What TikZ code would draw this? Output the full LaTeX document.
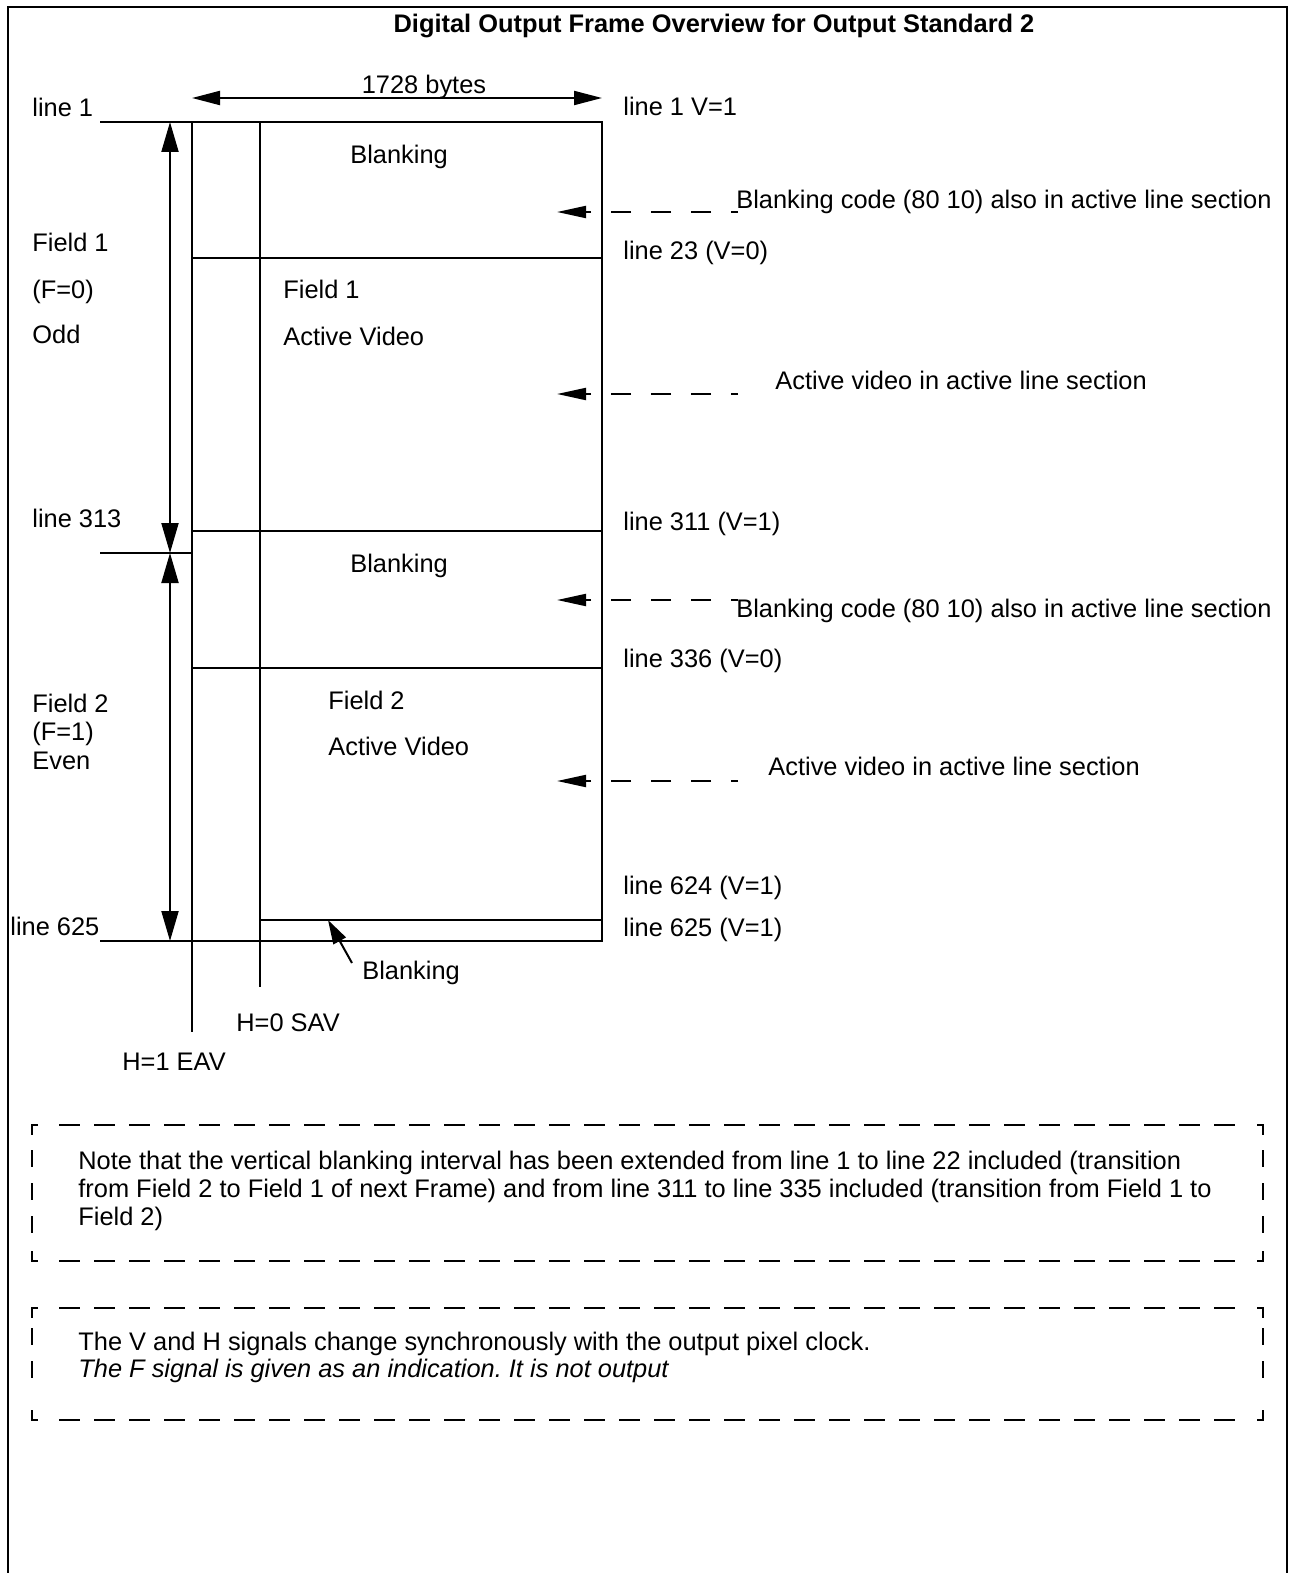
\documentclass[tikz,border=0pt]{standalone}
\usepackage{fontspec}
\setmainfont{Liberation Sans}
\usepackage{tikz}
\usetikzlibrary{arrows.meta,positioning}
\tikzset{lbl/.style={anchor=west,inner sep=0pt,text height=9pt,text depth=0pt}}
\tikzset{ln/.style={line width=1pt}}
\tikzset{vt/.style={ln,{Triangle[length=15pt,width=8.5pt]}-{Triangle[length=15pt,width=8.5pt]}}}
\tikzset{dsh/.style={ln,-{Triangle[length=14.5pt,width=6pt]},dash pattern=on 10pt off 10pt,dash phase=6.5pt}}
\tikzset{crn/.style={line width=1pt}}
\tikzset{hd/.style={line width=1.1pt,dash pattern=on 10.5pt off 7pt}}
\tikzset{vd/.style={line width=1pt,dash pattern=on 8.5pt off 8pt}}

\begin{document}
\frenchspacing
\begin{tikzpicture}[x=0.5pt,y=-0.5pt,font=\fontsize{12.7}{14.5}\selectfont]
    \useasboundingbox (0,0) rectangle (1295,1573);
    \draw[ln] (8,1573) -- (8,7) -- (1287,7) -- (1287,1573);
    \node[inner sep=0pt,text height=9pt,text depth=0pt] (ttl)at (714,24) {\bfseries Digital Output Frame Overview for Output Standard 2};
    % frame corners
    \coordinate (l1)at (100,122);
    \coordinate (tr)at (602,122);
    \coordinate (br)at (602,941);
    \coordinate (l625)at (100,941);
    \coordinate (eavt)at (192,122);
    \coordinate (eavb)at (192,1032);
    \coordinate (savt)at (260,122);
    \coordinate (savb)at (260,987);
    \draw[ln] (l1) -- (tr) -- (br) -- (l625);
    \draw[ln] (eavt) -- (eavb);
    \draw[ln] (savt) -- (savb);
    \draw[ln] (192,258) -- (602,258);
    \draw[ln] (192,531) -- (602,531);
    \draw[ln] (192,668) -- (602,668);
    \draw[ln] (260,920) -- (602,920);
    \draw[ln] (100,553) -- (192,553);
    \draw[vt] (170,122) -- (170,553);
    \draw[vt] (170,553) -- (170,941);
    \draw[ln,{Triangle[length=14pt,width=7pt]}-{Triangle[length=14pt,width=7pt]}] (192,98) -- (602,98);
    \node[inner sep=0pt,text height=9pt,text depth=0pt] (byt)at (424,85) {1728 bytes};
    % left labels
    \node[lbl] (t1)at (32,108) {line 1};
    \node[lbl] (f1a)at (32,242) {Field 1};
    \node[lbl] (f1b)at (32,290) {(F=0)};
    \node[lbl] (f1c)at (32,334) {Odd};
    \node[lbl] (t313)at (32,518) {line 313};
    \node[lbl] (f2a)at (32,703) {Field 2};
    \node[lbl,below=5pt of f2a.south west,anchor=north west] (f2b) {(F=1)};
    \node[lbl,below=5pt of f2b.south west,anchor=north west] (f2c) {Even};
    \node[lbl] (t625)at (10,926) {line 625};
    % inside the frame
    \node[lbl] (bk1)at (350,155) {Blanking};
    \node[lbl] (av1a)at (283,290) {Field 1};
    \node[lbl] (av1b)at (283,336) {Active Video};
    \node[lbl] (bk2)at (350,563) {Blanking};
    \node[lbl] (av2a)at (328,700) {Field 2};
    \node[lbl] (av2b)at (328,746) {Active Video};
    \node[lbl] (bk3)at (362,970) {Blanking};
    \coordinate (bkt)at (352,963);
    \coordinate (bkh)at (328,920);
    \draw[ln,-{Triangle[length=12pt,width=7pt]}] (bkt) -- (bkh);
    \node[lbl] (sav)at (236,1022) {H=0 SAV};
    \node[lbl] (eav)at (122,1061) {H=1 EAV};
    % right labels
    \node[lbl] (r1)at (623,107) {line 1 V=1};
    \node[lbl] (r23)at (623,250) {line 23 (V=0)};
    \node[lbl] (r311)at (623,521) {line 311 (V=1)};
    \node[lbl] (r336)at (623,658) {line 336 (V=0)};
    \node[lbl] (r624)at (623,885) {line 624 (V=1)};
    \node[lbl] (r625)at (623,927) {line 625 (V=1)};
    \node[lbl] (c1)at (736,200) {Blanking code (80 10) also in active line section};
    \node[lbl] (c2)at (775,380) {Active video in active line section};
    \node[lbl] (c3)at (736,608) {Blanking code (80 10) also in active line section};
    \node[lbl] (c4)at (768,766) {Active video in active line section};
    \draw[dsh] (738,212) -- (557,212);
    \draw[dsh] (738,394) -- (557,394);
    \draw[dsh] (738,600) -- (557,600);
    \draw[dsh] (738,781) -- (557,781);
    % notes
    \draw[crn] (38,1125) -| (32,1135) (1257,1125) -| (1263,1135) (32,1251) |- (38,1261) (1263,1251) |- (1257,1261);
    \draw[hd] (59,1125) -- (1236,1125) (59,1261) -- (1236,1261);
    \draw[vd] (32,1150) -- (32,1234) (1263,1150) -- (1263,1234);
    \node[lbl] (n1a)at (78,1160) {Note that the vertical blanking interval has been extended from line 1 to line 22 included (transition};
    \node[lbl] (n1b)at (78,1188) {from Field 2 to Field 1 of next Frame) and from line 311 to line 335 included (transition from Field 1 to};
    \node[lbl] (n1c)at (78,1216) {Field 2)};
    \draw[crn] (38,1308) -| (32,1318) (1257,1308) -| (1263,1318) (32,1410) |- (38,1420) (1263,1410) |- (1257,1420);
    \draw[hd] (59,1308) -- (1236,1308) (59,1420) -- (1236,1420);
    \draw[vd] (32,1328) -- (32,1378) (1263,1328) -- (1263,1378);
    \node[lbl] (n2a)at (78,1341) {The V and H signals change synchronously with the output pixel clock.};
    \node[lbl] (n2b)at (78,1368) {\itshape The F signal is given as an indication. It is not output};
\end{tikzpicture}
\end{document}
